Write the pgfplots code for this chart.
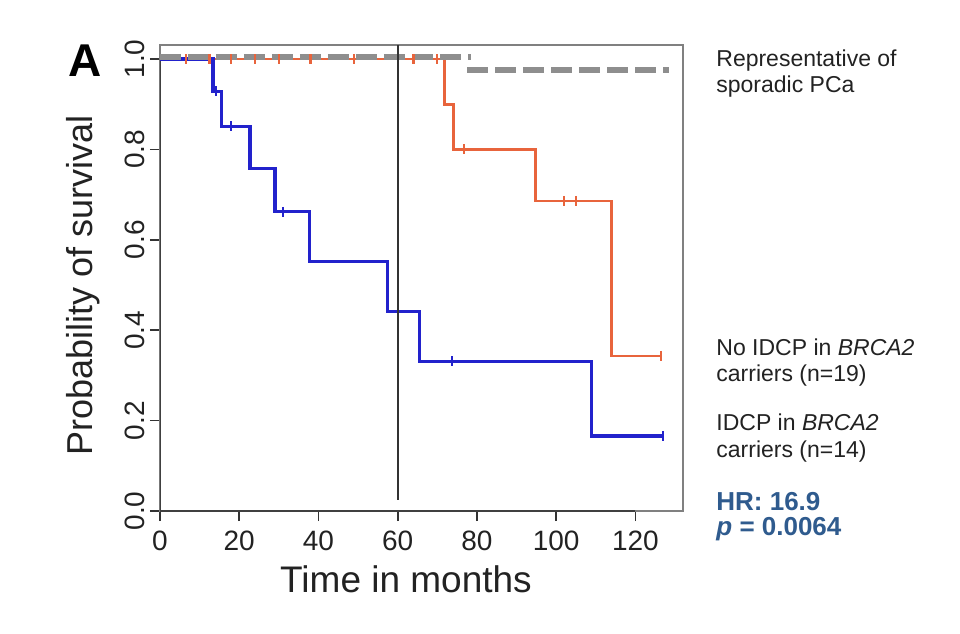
\documentclass[border=0pt]{standalone}
\usepackage{fontspec}
\setmainfont{Liberation Sans}
\usepackage{pgfplots}
\pgfplotsset{compat=1.18}

\definecolor{kmblue}{HTML}{2222CC}
\definecolor{kmorange}{HTML}{E8643C}
\definecolor{refgray}{HTML}{8E8E8E}
\definecolor{hrblue}{HTML}{2F5B8E}
\definecolor{txt}{HTML}{222222}

\begin{document}
\begin{tikzpicture}
% page frame around the panel
\path[use as bounding box] (-80pt,-61pt) rectangle (400pt,255.5pt);
\begin{axis}[
  at={(0,0)}, anchor=south west,
  scale only axis, width=261.5pt, height=233pt,
  xmin=0, xmax=132, ymin=0, ymax=1.031,
  axis line style={draw=black!50, line width=1.1pt},
  xtick={0,20,...,120}, ytick={0,0.2,0.4,0.6,0.8,1.0},
  xtick pos=bottom, ytick pos=left, tick align=outside,
  major tick length=5pt,
  tick style={black!80, line width=0.8pt},
  /pgf/number format/assume math mode=true,
  ticklabel style={font=\fontsize{14}{16}\selectfont, text=txt, inner sep=0pt},
  xticklabel style={anchor=base, yshift=-14.5pt},
  yticklabel style={xshift=-2.5pt, rotate=90, anchor=base},
  yticklabel={\pgfmathprintnumber[fixed, fixed zerofill, precision=1]{\tick}},
]
% R-style axis lines spanning the tick range
\draw[black!75, line width=0.9pt] (axis cs:0,0) -- (axis cs:120,0);
\draw[black!75, line width=0.9pt] (axis cs:0,0) -- (axis cs:0,1);

% No IDCP in BRCA2 carriers (n=19)
\addplot[const plot, kmorange, line width=1.4pt] coordinates {
  (0,1) (71.8,0.9) (74.1,0.8) (94.8,0.686) (113.9,0.343) (126.5,0.343)};
\addplot[only marks, mark=|, mark size=2.5pt, kmorange, line width=1.1pt] coordinates {
  (6.5,1) (12.5,1) (18,1) (24,1) (30,1) (38,1) (49,1) (64,1) (70,1)
  (76.7,0.8) (101.9,0.686) (104.9,0.686) (126.5,0.343)};

% IDCP in BRCA2 carriers (n=14)
\addplot[const plot, kmblue, line width=1.6pt] coordinates {
  (0,1) (13.4,0.929) (15.6,0.851) (22.7,0.757) (29.0,0.662) (37.8,0.552)
  (57.5,0.441) (65.5,0.331) (108.9,0.166) (127,0.166)};
\addplot[only marks, mark=|, mark size=2.5pt, kmblue, line width=1.1pt] coordinates {
  (14.1,0.929) (17.9,0.851) (31.0,0.662) (73.6,0.331) (127,0.166)};

% representative of sporadic PCa (two dashed levels)
\addplot[refgray, line width=2.8pt, dash pattern=on 10.5pt off 3.5pt] coordinates {
  (0,1.004) (78.5,1.004)};
\addplot[refgray, line width=2.8pt, dash pattern=on 10.5pt off 3.5pt] coordinates {
  (77.5,0.976) (128.5,0.976)};

% 5-year mark
\addplot[black!80, line width=1pt] coordinates {(60,0.025) (60,1.031)};
\end{axis}

% axis titles
\node[anchor=base, font=\fontsize{18.5}{20}\selectfont, text=txt] at (123pt,-41pt) {Time in months};
\node[rotate=90, anchor=base, font=\fontsize{18}{20}\selectfont, text=txt] at (-33.5pt,113pt) {Probability of survival};

% panel letter
\node[anchor=base west, inner sep=0pt, font=\fontsize{23}{25}\selectfont\bfseries] at (-46pt,217pt) {A};

% group labels
\begin{scope}[every node/.style={anchor=base west, inner sep=0pt, text=txt, font=\fontsize{11.5}{13}\selectfont}]
\node at (278pt,222pt) {Representative of};
\node at (278pt,209pt) {sporadic PCa};
\node at (278pt,77.5pt) {No IDCP in \textit{BRCA2}};
\node at (278pt,64.5pt) {carriers (n=19)};
\node at (278pt,40pt) {IDCP in \textit{BRCA2}};
\node at (278pt,27pt) {carriers (n=14)};
\end{scope}
\begin{scope}[every node/.style={anchor=base west, inner sep=0pt, text=hrblue, font=\fontsize{13}{15}\selectfont\bfseries}]
\node at (278pt,0pt) {HR: 16.9};
\node at (278pt,-12.5pt) {\textit{p} = 0.0064};
\end{scope}
\end{tikzpicture}
\end{document}
